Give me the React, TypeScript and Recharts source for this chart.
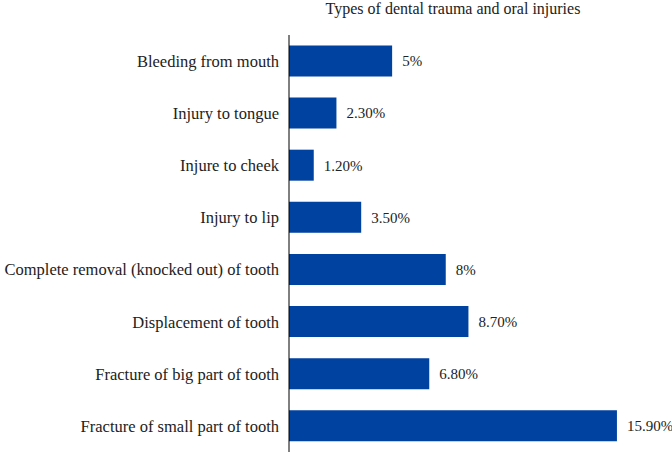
import React from "react";
import { BarChart, Bar, XAxis, YAxis, LabelList } from "recharts";

const categories = [
  "Bleeding from mouth",
  "Injury to tongue",
  "Injure to cheek",
  "Injury to lip",
  "Complete removal (knocked out) of tooth",
  "Displacement of tooth",
  "Fracture of big part of tooth",
  "Fracture of small part of tooth",
];

const values = [5, 2.3, 1.2, 3.5, 7.6, 8.7, 6.8, 15.9];

const valueLabels = ["5%", "2.30%", "1.20%", "3.50%", "8%", "8.70%", "6.80%", "15.90%"];

const data = categories.map((name, i) => ({
  name,
  value: values[i],
  label: valueLabels[i],
}));

const FONT = "'Liberation Serif', 'Times New Roman', serif";
const BAR_COLOR = "#0042A0";

export default function App() {
  return (
    <div
      style={{
        position: "absolute",
        left: 0,
        top: 0,
        width: 672,
        height: 452,
        background: "#fff",
        fontFamily: FONT,
      }}
    >
      <div
        style={{
          position: "absolute",
          top: 0,
          left: 253,
          width: 400,
          textAlign: "center",
          fontSize: 16,
          color: "#222",
          lineHeight: "18px",
        }}
      >
        Types of dental trauma and oral injuries
      </div>
      <BarChart
        width={672}
        height={452}
        data={data}
        layout="vertical"
        margin={{ top: 35, right: 53, bottom: 0, left: 0 }}
        barCategoryGap="20%"
      >
        <XAxis type="number" domain={[0, 16]} hide />
        <YAxis
          type="category"
          dataKey="name"
          width={289}
          tickLine={false}
          tickSize={0}
          tickMargin={10}
          axisLine={{ stroke: "#000", strokeWidth: 1 }}
          interval={0}
          tick={{ fill: "#222", fontSize: 16.5, fontFamily: FONT }}
        />
        <Bar dataKey="value" fill={BAR_COLOR} isAnimationActive={false}>
          <LabelList
            dataKey="label"
            position="right"
            offset={10}
            style={{ fill: "#222", fontSize: 15, fontFamily: FONT }}
          />
        </Bar>
      </BarChart>
    </div>
  );
}
